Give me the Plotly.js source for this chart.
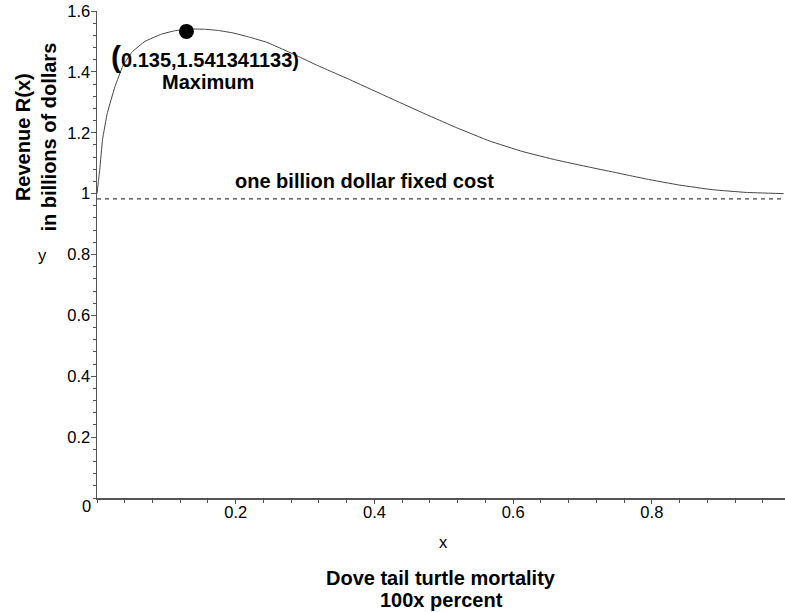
<!DOCTYPE html>
<html>
<head>
<meta charset="utf-8">
<script src="https://cdn.plot.ly/plotly-3.0.1.min.js"></script>
<style>html,body{margin:0;padding:0;background:#fff;}#chart{width:785px;height:612px;}</style>
</head>
<body>
<div id="chart"></div>
<script>
// Revenue curve
const curveX = [0, 0.002, 0.004, 0.008, 0.015, 0.026, 0.037, 0.050, 0.069, 0.093, 0.112, 0.135, 0.155, 0.175, 0.196, 0.220, 0.245, 0.268, 0.292, 0.316, 0.340, 0.364, 0.388, 0.412, 0.436, 0.470, 0.518, 0.566, 0.614, 0.663, 0.710, 0.744, 0.792, 0.840, 0.887, 0.936, 0.990];
const curveY = [1.0, 1.04, 1.079, 1.178, 1.266, 1.352, 1.418, 1.464, 1.500, 1.524, 1.535, 1.541, 1.540, 1.536, 1.528, 1.514, 1.497, 1.474, 1.449, 1.423, 1.399, 1.375, 1.350, 1.325, 1.300, 1.265, 1.217, 1.173, 1.138, 1.110, 1.087, 1.071, 1.048, 1.028, 1.013, 1.004, 1.0];
// fixed cost line
const costX = [0, 0.992];
const costY = [0.983, 0.983];
// maximum point
const maxX = [0.129];
const maxY = [1.533];
// ticks
const xTickVals = [0.2, 0.4, 0.6, 0.8];
const xTickText = ["0.2", "0.4", "0.6", "0.8"];
const yTickVals = [0.2, 0.4, 0.6, 0.8, 1, 1.2, 1.4, 1.6];
const yTickText = ["0.2", "0.4", "0.6", "0.8", "1", "1.2", "1.4", "1.6"];

const axisColor = "#555";
const FAM = "Liberation Sans, Arial, sans-serif";
const font = {family: FAM, size: 16.5, color: "#000"};
const big = {family: FAM, size: 20, color: "#000"};

const traces = [
  {x: curveX, y: curveY, mode: "lines", line: {color: "#444", width: 1, shape: "spline", smoothing: 0.3}, hoverinfo: "skip"},
  {x: costX, y: costY, mode: "lines", line: {color: "#444", width: 1.3, dash: "4px,4px"}, hoverinfo: "skip"},
  {x: maxX, y: maxY, mode: "markers", marker: {color: "#000", size: 15}, hoverinfo: "skip"}
];

const layout = {
  width: 785, height: 612,
  margin: {l: 97, r: 0, t: 11, b: 114},
  paper_bgcolor: "#fff", plot_bgcolor: "#fff",
  showlegend: false,
  font: font,
  xaxis: {
    range: [0, 0.992], showgrid: false, zeroline: false,
    showline: true, linecolor: axisColor, linewidth: 1.5,
    tickvals: xTickVals, ticktext: xTickText,
    ticks: "outside", ticklen: 4, tickcolor: axisColor, tickfont: font,
    ticklabelstandoff: -5,
    minor: {dtick: 0.04, ticks: "outside", ticklen: 3, tickcolor: axisColor, showgrid: false},
    fixedrange: true
  },
  yaxis: {
    range: [0, 1.6], showgrid: false, zeroline: false,
    showline: true, linecolor: axisColor, linewidth: 1.5,
    tickvals: yTickVals, ticktext: yTickText,
    ticks: "outside", ticklen: 5, tickcolor: axisColor, tickfont: font,
    ticklabelstandoff: -3,
    minor: {dtick: 0.04, ticks: "outside", ticklen: 3, tickcolor: axisColor, showgrid: false},
    fixedrange: true
  },
  annotations: [
    {xref: "paper", yref: "paper", x: -0.006, y: 0, xanchor: "right", yanchor: "middle", yshift: -8, text: "0", showarrow: false, font: font},
    {xref: "paper", yref: "paper", x: 0.5, y: 0, xanchor: "center", yanchor: "middle", yshift: -44, xshift: 2, text: "x", showarrow: false, font: font},
    {xref: "paper", yref: "paper", x: 0, y: 0.5, xanchor: "right", yanchor: "middle", xshift: -48, text: "y", showarrow: false, font: font},
    {xref: "paper", yref: "paper", x: 0.5, y: 0, xanchor: "center", yanchor: "middle", yshift: -80, xshift: 0, text: "<b>Dove tail turtle mortality</b>", showarrow: false, font: big},
    {xref: "paper", yref: "paper", x: 0.5, y: 0, xanchor: "center", yanchor: "middle", yshift: -102, xshift: 0, text: "<b>100x percent</b>", showarrow: false, font: big},
    {xref: "paper", yref: "paper", x: 0, y: 0.74, xanchor: "center", yanchor: "middle", xshift: -61, textangle: -90, text: "<b>Revenue R(x)</b><br><b>in billions of dollars</b>", showarrow: false, font: big},
    {xref: "x", yref: "y", x: 0.156, y: 1.451, xanchor: "center", yanchor: "middle", text: "<b><span style=\"font-size:30px\">(</span>0.135,1.541341133)</b>", showarrow: false, font: big},
    {xref: "x", yref: "y", x: 0.160, y: 1.368, xanchor: "center", yanchor: "middle", text: "<b>Maximum</b>", showarrow: false, font: big},
    {xref: "x", yref: "y", x: 0.385, y: 1.043, xanchor: "center", yanchor: "middle", text: "<b>one billion dollar fixed cost</b>", showarrow: false, font: big}
  ]
};

Plotly.newPlot("chart", traces, layout, {staticPlot: true, displayModeBar: false});
</script>
</body>
</html>
